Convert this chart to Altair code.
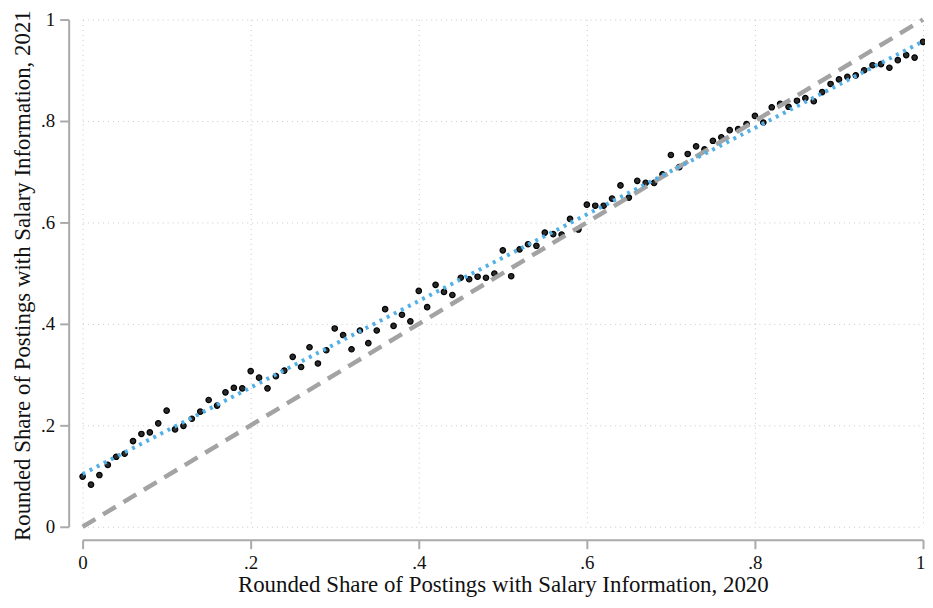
import altair as alt
import pandas as pd

# Rounded share of postings with salary information, 2020 (x) and 2021 (y)
share_2020 = [
    0.00, 0.01, 0.02, 0.03, 0.04, 0.05, 0.06, 0.07, 0.08, 0.09,
    0.10, 0.11, 0.12, 0.13, 0.14, 0.15, 0.16, 0.17, 0.18, 0.19,
    0.20, 0.21, 0.22, 0.23, 0.24, 0.25, 0.26, 0.27, 0.28, 0.29,
    0.30, 0.31, 0.32, 0.33, 0.34, 0.35, 0.36, 0.37, 0.38, 0.39,
    0.40, 0.41, 0.42, 0.43, 0.44, 0.45, 0.46, 0.47, 0.48, 0.49,
    0.50, 0.51, 0.52, 0.53, 0.54, 0.55, 0.56, 0.57, 0.58, 0.59,
    0.60, 0.61, 0.62, 0.63, 0.64, 0.65, 0.66, 0.67, 0.68, 0.69,
    0.70, 0.71, 0.72, 0.73, 0.74, 0.75, 0.76, 0.77, 0.78, 0.79,
    0.80, 0.81, 0.82, 0.83, 0.84, 0.85, 0.86, 0.87, 0.88, 0.89,
    0.90, 0.91, 0.92, 0.93, 0.94, 0.95, 0.96, 0.97, 0.98, 0.99,
    1.00,
]
share_2021 = [
    0.099, 0.083, 0.102, 0.122, 0.138, 0.144, 0.169, 0.183, 0.186, 0.204,
    0.229, 0.192, 0.199, 0.213, 0.227, 0.250, 0.239, 0.265, 0.274, 0.273,
    0.307, 0.294, 0.273, 0.297, 0.308, 0.335, 0.315, 0.354, 0.322, 0.348,
    0.391, 0.378, 0.350, 0.387, 0.362, 0.387, 0.429, 0.396, 0.418, 0.405,
    0.465, 0.433, 0.477, 0.463, 0.457, 0.491, 0.488, 0.493, 0.491, 0.499,
    0.545, 0.494, 0.547, 0.557, 0.554, 0.580, 0.577, 0.576, 0.607, 0.586,
    0.635, 0.633, 0.633, 0.647, 0.673, 0.649, 0.682, 0.678, 0.678, 0.695,
    0.733, 0.709, 0.735, 0.750, 0.744, 0.761, 0.768, 0.782, 0.784, 0.794,
    0.810, 0.797, 0.827, 0.834, 0.828, 0.840, 0.845, 0.839, 0.857, 0.873,
    0.882, 0.887, 0.890, 0.900, 0.910, 0.912, 0.905, 0.920, 0.930, 0.925,
    0.956,
]

# Linear fit (endpoints) and 45-degree line
fit_x = [0.0, 1.0]
fit_y = [0.104, 0.957]
diag_x = [0.0, 1.0]
diag_y = [0.0, 1.0]

tick_values = [0, 0.2, 0.4, 0.6, 0.8, 1]

pts = pd.DataFrame({"x": share_2020, "y": share_2021})
fit = pd.DataFrame({"x": fit_x, "y": fit_y})
diag = pd.DataFrame({"x": diag_x, "y": diag_y})

label_expr = "replace(format(datum.value, '.1~f'), '0.', '.')"

x_enc = alt.X(
    "x:Q",
    scale=alt.Scale(domain=[0, 1], nice=False, zero=False),
    axis=alt.Axis(
        values=tick_values,
        labelExpr=label_expr,
        labelAlign=alt.expr("datum.value == 1 ? 'right' : 'center'"),
        labelOffset=alt.expr("datum.value == 1 ? 2 : 0"),
        title="Rounded Share of Postings with Salary Information, 2020",
        offset=13,
        labelPadding=5,
        titlePadding=1,
    ),
)
y_enc = alt.Y(
    "y:Q",
    scale=alt.Scale(domain=[0, 1], nice=False, zero=False),
    axis=alt.Axis(
        values=tick_values,
        labelExpr=label_expr,
        title="Rounded Share of Postings with Salary Information, 2021",
        titleY=257,
        offset=14,
        labelPadding=5,
        titlePadding=6,
    ),
)

points = alt.Chart(pts).mark_point(
    size=30, filled=True, fill="#2a2a2a", stroke="#000000", strokeWidth=1.2, opacity=1
).encode(x=x_enc, y=y_enc)

diag_line = alt.Chart(diag).mark_line(
    color="#a3a3a3", strokeWidth=4.5, strokeDash=[15, 9]
).encode(x="x:Q", y="y:Q")

fit_line = alt.Chart(fit).mark_line(
    color="#52b0e6", strokeWidth=4, strokeDash=[3, 5]
).encode(x="x:Q", y="y:Q")

chart = (
    alt.layer(points, diag_line, fit_line)
    .properties(
        width=845,
        height=510,
        autosize=alt.AutoSizeParams(type="none"),
        padding={"left": 75, "top": 10, "right": 2, "bottom": 72},
        background="white",
    )
    .configure_view(stroke=None)
    .configure_axis(
        labelFont="Liberation Serif",
        labelFontSize=19,
        labelColor="#111111",
        labelFlush=False,
        titleFont="Liberation Serif",
        titleFontSize=23,
        titleFontWeight="normal",
        titleColor="#111111",
        domainColor="#aaaaaa",
        domainWidth=2,
        tickColor="#aaaaaa",
        tickWidth=2,
        tickSize=9,
        grid=True,
        gridColor="#c8c8c8",
        gridDash=[1, 4],
        gridWidth=1,
    )
    .configure_axisY(labelAngle=0)
)

chart.save("out.html", embed_options={"renderer": "svg", "actions": False})
